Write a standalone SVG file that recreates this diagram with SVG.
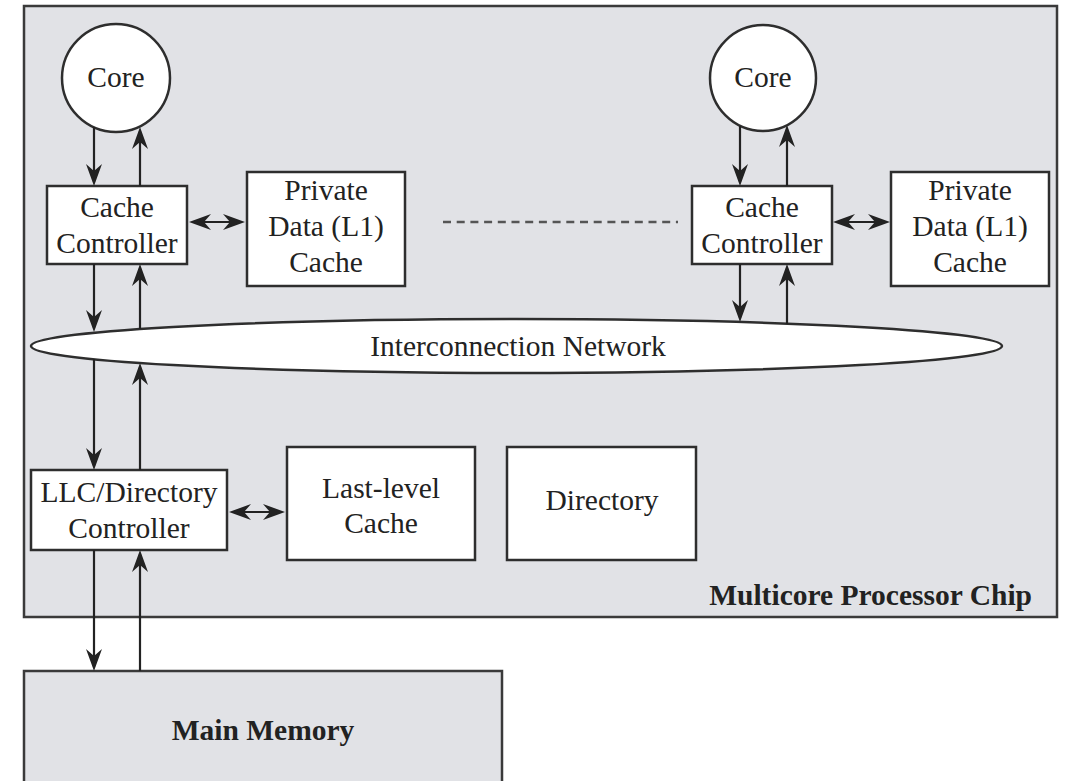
<svg xmlns="http://www.w3.org/2000/svg" width="1071" height="781" viewBox="0 0 1071 781">
  <defs>
    <style>
      .chip { fill: #e1e2e6; stroke: #3a3a3a; stroke-width: 2.5; }
      .box { fill: #ffffff; stroke: #2e2e2e; stroke-width: 2.5; }
      .lbl { font-family: "Liberation Serif", "Times New Roman", serif; font-size: 29.5px; fill: #222222; text-anchor: middle; }
      .bold { font-weight: bold; }
      .wire { stroke: #222222; stroke-width: 2.2; fill: none; }
      .arr { marker-end: url(#head); }
      .dbl { marker-start: url(#head); marker-end: url(#head); }
      .dash { stroke: #555555; stroke-width: 2.5; stroke-dasharray: 8 5.7; fill: none; }
    </style>
    <marker id="head" viewBox="-22 -8 22 16" refX="-4" refY="0" markerWidth="22" markerHeight="16" markerUnits="userSpaceOnUse" orient="auto-start-reverse">
      <path d="M0,0 L-22,-8 L-15,0 L-22,8 Z" fill="#222222"/>
    </marker>
  </defs>

  <!-- chip outline -->
  <g id="chip">
    <rect class="chip" x="24" y="6" width="1033" height="611"/>
    <text class="lbl bold" x="1032" y="605" style="text-anchor:end">Multicore Processor Chip</text>
  </g>

  <!-- off-chip memory -->
  <g id="main-memory">
    <rect class="chip" x="24" y="671" width="478" height="130"/>
    <text class="lbl bold" x="263" y="740">Main Memory</text>
  </g>

  <!-- left tile -->
  <g id="core-left">
    <circle class="box" cx="116" cy="78" r="54"/>
    <text class="lbl" x="116" y="87">Core</text>
  </g>
  <g id="cache-controller-left">
    <rect class="box" x="47" y="186" width="140" height="78"/>
    <text class="lbl" x="117" y="217">Cache</text>
    <text class="lbl" x="117" y="253">Controller</text>
  </g>
  <g id="l1-cache-left">
    <rect class="box" x="247" y="172" width="158" height="114"/>
    <text class="lbl" x="326" y="200">Private</text>
    <text class="lbl" x="326" y="236">Data (L1)</text>
    <text class="lbl" x="326" y="272">Cache</text>
  </g>

  <!-- right tile -->
  <g id="core-right">
    <circle class="box" cx="763" cy="78" r="53"/>
    <text class="lbl" x="763" y="87">Core</text>
  </g>
  <g id="cache-controller-right">
    <rect class="box" x="692" y="186" width="140" height="78"/>
    <text class="lbl" x="762" y="217">Cache</text>
    <text class="lbl" x="762" y="253">Controller</text>
  </g>
  <g id="l1-cache-right">
    <rect class="box" x="891" y="172" width="158" height="114"/>
    <text class="lbl" x="970" y="200">Private</text>
    <text class="lbl" x="970" y="236">Data (L1)</text>
    <text class="lbl" x="970" y="272">Cache</text>
  </g>

  <!-- network -->
  <g id="interconnect">
    <ellipse class="box" cx="516.5" cy="346" rx="485.5" ry="27"/>
    <text class="lbl" x="518" y="356">Interconnection Network</text>
  </g>

  <!-- shared level -->
  <g id="llc-controller">
    <rect class="box" x="31" y="470" width="196" height="80"/>
    <text class="lbl" x="129" y="502">LLC/Directory</text>
    <text class="lbl" x="129" y="538">Controller</text>
  </g>
  <g id="llc">
    <rect class="box" x="287" y="447" width="188" height="113"/>
    <text class="lbl" x="381" y="498">Last-level</text>
    <text class="lbl" x="381" y="533">Cache</text>
  </g>
  <g id="directory">
    <rect class="box" x="507" y="447" width="189" height="113"/>
    <text class="lbl" x="602" y="510">Directory</text>
  </g>

  <!-- connectors -->
  <g id="connectors">
    <!-- left core / controller -->
    <line class="wire arr" x1="94" y1="127" x2="94" y2="182"/>
    <line class="wire arr" x1="140" y1="186" x2="140" y2="131"/>
    <!-- left controller / network -->
    <line class="wire arr" x1="94" y1="264" x2="94" y2="328"/>
    <line class="wire arr" x1="140" y1="329" x2="140" y2="268"/>
    <!-- network / LLC controller -->
    <line class="wire arr" x1="94" y1="359" x2="94" y2="466"/>
    <line class="wire arr" x1="140" y1="470" x2="140" y2="367"/>
    <!-- LLC controller / memory -->
    <line class="wire arr" x1="94" y1="550" x2="94" y2="667"/>
    <line class="wire arr" x1="140" y1="671" x2="140" y2="554"/>
    <!-- right core / controller -->
    <line class="wire arr" x1="740" y1="126" x2="740" y2="182"/>
    <line class="wire arr" x1="787" y1="186" x2="787" y2="129"/>
    <!-- right controller / network -->
    <line class="wire arr" x1="740" y1="264" x2="740" y2="318"/>
    <line class="wire arr" x1="787" y1="324" x2="787" y2="268"/>
    <!-- controller / private cache links -->
    <line class="wire dbl" x1="193" y1="222" x2="241" y2="222"/>
    <line class="wire dbl" x1="837" y1="222" x2="886" y2="222"/>
    <line class="wire dbl" x1="233" y1="512" x2="281" y2="512"/>
    <!-- further tiles in between -->
    <line class="dash" x1="443" y1="222" x2="678" y2="222"/>
  </g>
</svg>
